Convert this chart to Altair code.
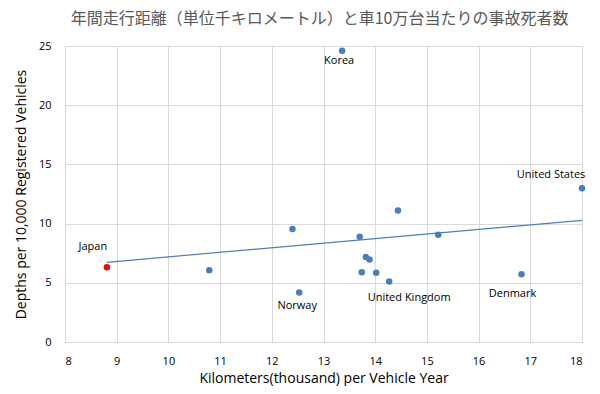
import altair as alt
import pandas as pd

# data
km = [8.81, 10.79, 12.40, 12.53, 13.36, 13.70, 13.74, 13.82, 13.89, 14.02, 14.27, 14.44, 15.22, 16.83, 18.00]
deaths = [6.32, 6.07, 9.55, 4.18, 24.59, 8.88, 5.90, 7.17, 6.96, 5.84, 5.11, 11.10, 9.05, 5.73, 12.98]
country = ["Japan", "", "", "Norway", "Korea", "", "", "", "", "", "United Kingdom", "", "", "Denmark", "United States"]
x_ticks = [8, 9, 10, 11, 12, 13, 14, 15, 16, 17, 18]
y_ticks = [0, 5, 10, 15, 20, 25]

df = pd.DataFrame({"km": km, "deaths": deaths, "country": country})
df["is_japan"] = df["country"] == "Japan"

FONT = "Open Sans"
BLUE = "#4a7ebb"

x = alt.X("km:Q", scale=alt.Scale(domain=[8, 18], nice=False),
          axis=alt.Axis(values=x_ticks, title="Kilometers(thousand) per Vehicle Year",
                        labelPadding=13, titlePadding=5))
y = alt.Y("deaths:Q", scale=alt.Scale(domain=[0, 25], nice=False),
          axis=alt.Axis(values=y_ticks, title="Depths per 10,000 Registered Vehicles",
                        labelPadding=14, titlePadding=10))

base = alt.Chart(df)

trend = base.transform_regression("km", "deaths").mark_line(color=BLUE, strokeWidth=1.2).encode(x=x, y=y)

points = base.mark_circle(size=42, opacity=1).encode(
    x=x, y=y,
    color=alt.condition("datum.is_japan", alt.value("#ff0000"), alt.value(BLUE)),
)

offsets = {
    "Korea": (-3, 10),
    "Japan": (-14, -20),
    "Norway": (-2, 13),
    "United Kingdom": (20, 17),
    "Denmark": (-9, 20),
    "United States": (-31, -13),
}

labels = []
for name, (ddx, ddy) in offsets.items():
    labels.append(
        base.transform_filter(alt.datum.country == name)
        .mark_text(dx=ddx, dy=ddy, font=FONT, fontSize=11, color="#000000", align="center", baseline="middle")
        .encode(x=x, y=y, text="country:N")
    )

chart = alt.layer(trend, points, *labels).properties(
    width=517,
    height=296,
    autosize=alt.AutoSizeParams(type="none"),
    padding={"left": 57, "top": 38, "right": 10, "bottom": 44},
    title=alt.TitleParams(
        "年間走行距離（単位千キロメートル）と車10万台当たりの事故死者数",
        font="Noto Sans CJK JP", fontSize=16, fontWeight="normal", color="#595959",
        anchor="middle", dx=-4, offset=13,
    ),
).configure_view(stroke=None).configure_axis(
    grid=True, gridColor="#d9d9d9", gridWidth=1, domain=False, ticks=False,
    labelFont=FONT, labelFontSize=11, labelColor="#000000",
    titleFont=FONT, titleFontSize=14, titleFontWeight="normal", titleColor="#000000",
)

chart.save("out.html", embed_options={"renderer": "svg", "actions": False})
